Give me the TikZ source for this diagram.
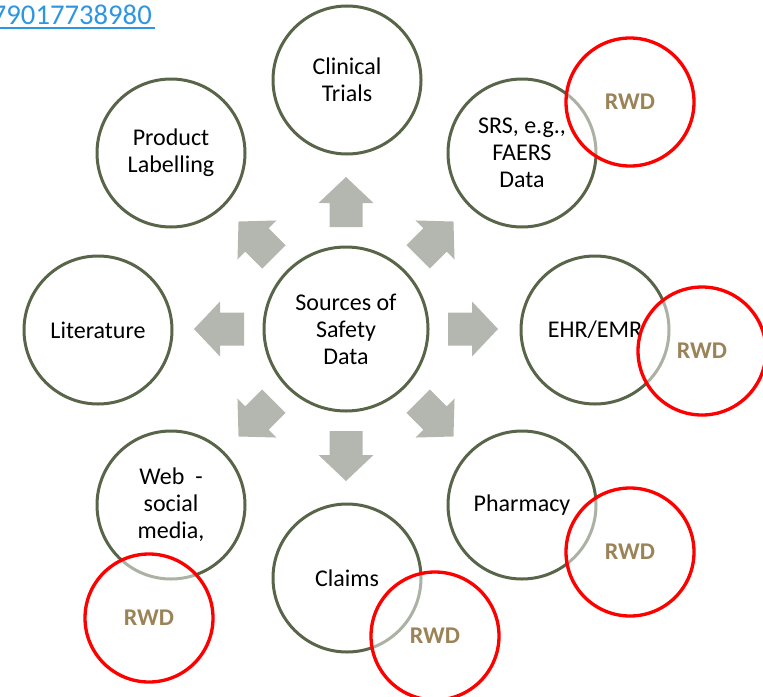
\documentclass[tikz,border=0pt]{standalone}
\usepackage{fontspec}
\setmainfont{Carlito}
\definecolor{olive}{RGB}{88,101,72}
\definecolor{arrowgray}{RGB}{180,183,176}
\definecolor{rwdtan}{RGB}{155,131,88}
\definecolor{linkblue}{RGB}{46,150,225}
\tikzset{
  pics/blockarrow/.style={code={
    \fill[arrowgray] (102,-16.5) -- (126,-16.5) -- (126,-27.5) -- (152,0)
      -- (126,27.5) -- (126,16.5) -- (102,16.5) -- cycle;}},
}
\begin{document}
\begin{tikzpicture}[x=0.75pt,y=-0.75pt,
  src/.style={circle, draw=olive, line width=2.25pt, minimum size=111pt,
    inner sep=0pt, align=center, text=black,
    font=\fontsize{18}{20.25}\selectfont},
  hub/.style={src, minimum size=123pt},
  rwd/.style={circle, draw=red, line width=2.5pt, fill=white, fill opacity=0.5,
    text opacity=1, minimum size=96pt, inner sep=0pt, text=rwdtan,
    font=\fontsize{18}{20}\selectfont\bfseries},
]
\useasboundingbox (0,0) rectangle (763,696);

% hyperlink fragment in the corner
\node[anchor=base east, inner sep=0pt, text=linkblue,
  font=\fontsize{21.5}{24}\selectfont] (link) at (152,24) {79017738980};
\draw[linkblue, line width=1.4pt] ([yshift=-3pt]link.base west) -- ([yshift=-3pt,xshift=2pt]link.base east);

% central hub and the eight sources
\node[hub] (hub) at (346,329) {Sources of\\Safety\\Data};
\node[src] (trials) at (347,80) {Clinical\\Trials};
\node[src] (label) at (171,153) {Product\\Labelling};
\node[src] (srs) at (522,153) {SRS, e.g.,\\FAERS\\Data};
\node[src] (lit) at (98,330) {Literature};
\node[src] (ehr) at (595,330) {EHR/EMR};
\node[src] (web) at (171,505) {Web~ -\\social\\media,};
\node[src] (claims) at (347,578) {Claims};
\node[src] (pharm) at (522,505) {Pharmacy};

% block arrows radiating from the hub
\foreach \a in {0,45,...,315}
  \pic[rotate=\a] at (hub.center) {blockarrow};

% real-world-data markers
\node[rwd] (rwdsrs) at (630,102) {RWD};
\node[rwd] (rwdehr) at (702,351) {RWD};
\node[rwd] (rwdpharm) at (630,552) {RWD};
\node[rwd] (rwdclaims) at (435,636) {RWD};
\node[rwd] (rwdweb) at (149,618) {RWD};
\end{tikzpicture}
\end{document}
